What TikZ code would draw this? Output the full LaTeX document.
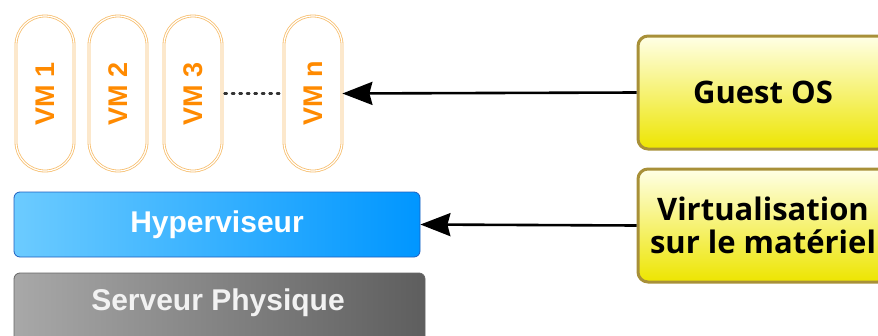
\documentclass[tikz,border=0pt]{standalone}
\usepackage{fontspec}
\setmainfont{Liberation Sans}
\newfontfamily\boxfont{Open Sans}
\usetikzlibrary{arrows.meta,shadings}
\definecolor{vmtext}{HTML}{FF8A00}
\definecolor{vmborder}{HTML}{F7BE6E}
\definecolor{yborder}{HTML}{A89038}
\definecolor{ytop}{HTML}{FFFFE6}
\definecolor{ybot}{HTML}{EDE500}
\definecolor{hypl}{HTML}{6CCBFF}
\definecolor{hypr}{HTML}{0096FF}
\definecolor{hypborder}{HTML}{1F5FC0}
\definecolor{srvl}{HTML}{A8A8A8}
\definecolor{srvr}{HTML}{5E5E5E}
\tikzset{
  vmbox/.style={draw=vmborder, double=white, double distance=1.2pt, line width=0.8pt,
    rounded corners=29pt, minimum width=58pt, minimum height=155pt, inner sep=0pt},
  vmlabel/.style={text=vmtext, font=\fontsize{27}{28}\selectfont\bfseries, rotate=90},
  notebox/.style={draw=yborder, line width=3pt, rounded corners=10pt,
    top color=ytop, bottom color=ybot, minimum width=250pt, minimum height=113pt,
    align=center, font=\boxfont\fontsize{31}{33}\selectfont\bfseries, inner sep=0pt},
  layerbox/.style={rounded corners=6pt, inner sep=0pt, text=white,
    font=\fontsize{30}{32}\selectfont\bfseries},
  bigarrow/.style={-{Stealth[length=30pt,width=23pt,inset=3pt]}, line width=2.6pt, black},
}
\begin{document}
\begin{tikzpicture}[x=1pt,y=-1pt]
\useasboundingbox (0,0) rectangle (878,335);
% VM pills
\node[vmbox] (vm1) at (45,93.5) {};
\node[vmlabel] at (vm1) {VM 1};
\node[vmbox] (vm2) at (118,93.5) {};
\node[vmlabel] at (vm2) {VM 2};
\node[vmbox] (vm3) at (193,93.5) {};
\node[vmlabel] at (vm3) {VM 3};
\node[vmbox] (vmn) at (313,93.5) {};
\node[vmlabel] at (vmn) {VM n};
\draw[line width=2.2pt, dash pattern=on 2.5pt off 5pt, line cap=round, black!80]
  ([xshift=2pt]vm3.east) -- ([xshift=-2pt]vmn.east -| vmn.west);
% layers
\node[layerbox, draw=hypborder, line width=0.8pt, left color=hypl, right color=hypr,
  minimum width=406pt, minimum height=65pt] (hyp) at (217,224.5) {Hyperviseur};
\node[layerbox, draw=black!60, line width=0.8pt, left color=srvl, right color=srvr,
  minimum width=411pt, minimum height=70pt] (srv) at (219.5,308) {};
\node[text=white!95!black, font=\fontsize{30}{32}\selectfont\bfseries] (srvt) at (218,303) {Serveur Physique};
% note boxes
\node[notebox] (guest) at (763,92.5) {Guest OS};
\node[notebox] (virt) at (763,225.5) {Virtualisation\\sur le matériel};
% arrows
\draw[bigarrow] (guest.west) -- (vmn.east);
\draw[bigarrow] (virt.west) -- (hyp.east);
\end{tikzpicture}
\end{document}
